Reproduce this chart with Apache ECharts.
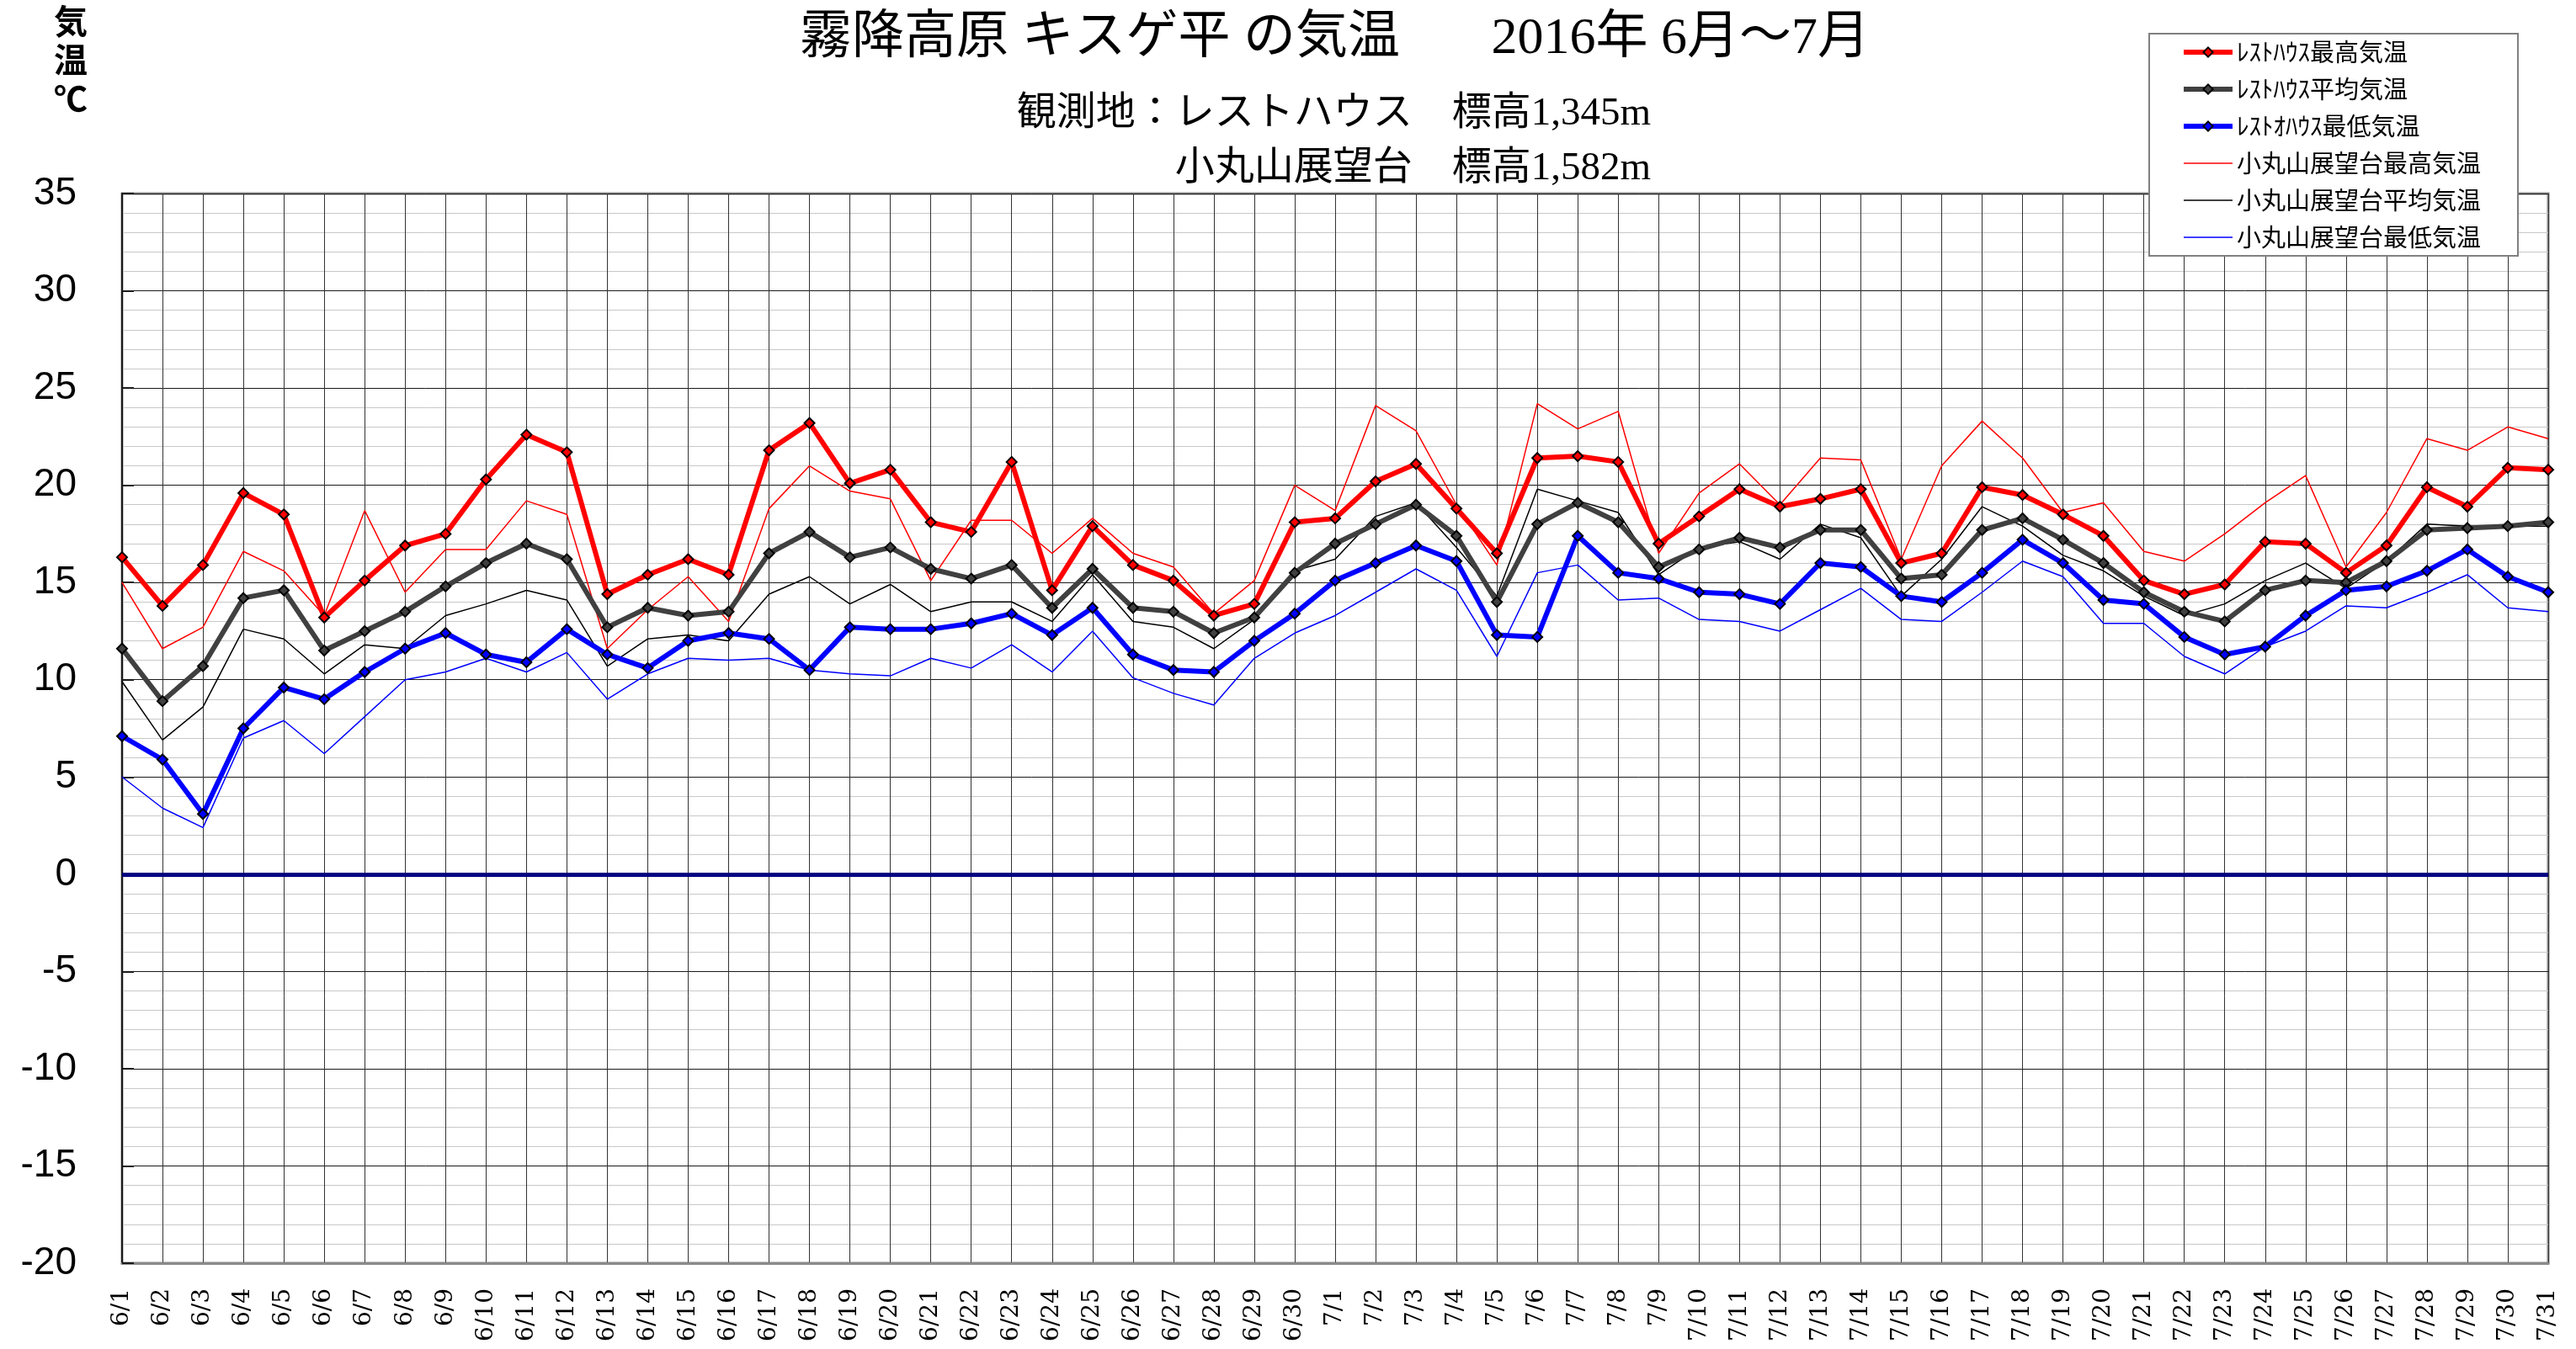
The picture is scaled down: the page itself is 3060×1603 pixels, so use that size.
<!DOCTYPE html>
<html lang="ja">
<head>
<meta charset="utf-8">
<title>霧降高原 キスゲ平 の気温 2016年 6月～7月</title>
<script src="https://cdn.jsdelivr.net/npm/echarts@6/dist/echarts.min.js"></script>
<style>
  html, body { margin: 0; padding: 0; background: #ffffff; }
  #chart { width: 3060px; height: 1603px; }
</style>
</head>
<body>
<div id="chart"></div>
<script>
const dates = [
  "6/1", "6/2", "6/3", "6/4", "6/5", "6/6", "6/7", "6/8", "6/9", "6/10",
  "6/11", "6/12", "6/13", "6/14", "6/15", "6/16", "6/17", "6/18", "6/19", "6/20",
  "6/21", "6/22", "6/23", "6/24", "6/25", "6/26", "6/27", "6/28", "6/29", "6/30",
  "7/1", "7/2", "7/3", "7/4", "7/5", "7/6", "7/7", "7/8", "7/9", "7/10",
  "7/11", "7/12", "7/13", "7/14", "7/15", "7/16", "7/17", "7/18", "7/19", "7/20",
  "7/21", "7/22", "7/23", "7/24", "7/25", "7/26", "7/27", "7/28", "7/29", "7/30", "7/31",
];

// レストハウス (1,345m)
const restMax = [
  16.3, 13.8, 15.9, 19.6, 18.5, 13.2, 15.1, 16.9, 17.5, 20.3, 22.6, 21.7, 14.4,
  15.4, 16.2, 15.4, 21.8, 23.2, 20.1, 20.8, 18.1, 17.6, 21.2, 14.6, 17.9,
  15.9, 15.1, 13.3, 13.9, 18.1, 18.3, 20.2, 21.1, 18.8, 16.5, 21.4, 21.5,
  21.2, 17.0, 18.4, 19.8, 18.9, 19.3, 19.8, 16.0, 16.5, 19.9, 19.5, 18.5,
  17.4, 15.1, 14.4, 14.9, 17.1, 17.0, 15.5, 16.9, 19.9, 18.9, 20.9, 20.8,
];
const restAvg = [
  11.6, 8.9, 10.7, 14.2, 14.6, 11.5, 12.5, 13.5, 14.8, 16.0, 17.0, 16.2, 12.7,
  13.7, 13.3, 13.5, 16.5, 17.6, 16.3, 16.8, 15.7, 15.2, 15.9, 13.7, 15.7,
  13.7, 13.5, 12.4, 13.2, 15.5, 17.0, 18.0, 19.0, 17.4, 14.0, 18.0, 19.1,
  18.1, 15.8, 16.7, 17.3, 16.8, 17.7, 17.7, 15.2, 15.4, 17.7, 18.3, 17.2,
  16.0, 14.5, 13.5, 13.0, 14.6, 15.1, 15.0, 16.1, 17.7, 17.8, 17.9, 18.1,
];
const restMin = [
  7.1, 5.9, 3.1, 7.5, 9.6, 9.0, 10.4, 11.6, 12.4, 11.3, 10.9, 12.6, 11.3,
  10.6, 12.0, 12.4, 12.1, 10.5, 12.7, 12.6, 12.6, 12.9, 13.4, 12.3, 13.7,
  11.3, 10.5, 10.4, 12.0, 13.4, 15.1, 16.0, 16.9, 16.1, 12.3, 12.2, 17.4,
  15.5, 15.2, 14.5, 14.4, 13.9, 16.0, 15.8, 14.3, 14.0, 15.5, 17.2, 16.0,
  14.1, 13.9, 12.2, 11.3, 11.7, 13.3, 14.6, 14.8, 15.6, 16.7, 15.3, 14.5,
];

// 小丸山展望台 (1,582m)
const komaMax = [
  15.0, 11.6, 12.7, 16.6, 15.6, 13.3, 18.7, 14.5, 16.7, 16.7, 19.2, 18.5, 11.6,
  13.6, 15.3, 13.0, 18.8, 21.0, 19.7, 19.3, 15.1, 18.2, 18.2, 16.5, 18.3,
  16.5, 15.8, 13.4, 15.1, 20.0, 18.7, 24.1, 22.8, 19.0, 15.9, 24.2, 22.9,
  23.8, 16.5, 19.6, 21.1, 19.0, 21.4, 21.3, 16.2, 21.0, 23.3, 21.4, 18.6,
  19.1, 16.6, 16.1, 17.5, 19.1, 20.5, 15.8, 18.6, 22.4, 21.8, 23.0, 22.4,
];
const komaAvg = [
  9.9, 6.9, 8.6, 12.6, 12.1, 10.3, 11.8, 11.6, 13.3, 13.9, 14.6, 14.1, 10.7,
  12.1, 12.3, 12.0, 14.4, 15.3, 13.9, 14.9, 13.5, 14.0, 14.0, 13.0, 15.4,
  13.0, 12.7, 11.6, 13.1, 15.6, 16.2, 18.4, 19.1, 16.8, 14.3, 19.8, 19.2,
  18.6, 15.4, 16.8, 17.1, 16.2, 18.0, 17.3, 14.3, 16.2, 18.9, 17.9, 16.4,
  15.6, 14.3, 13.3, 13.9, 15.1, 16.0, 14.7, 16.1, 18.0, 17.9, 17.9, 17.9,
];
const komaMin = [
  5.0, 3.4, 2.4, 7.0, 7.9, 6.2, 8.1, 10.0, 10.4, 11.1, 10.4, 11.4, 9.0,
  10.3, 11.1, 11.0, 11.1, 10.5, 10.3, 10.2, 11.1, 10.6, 11.8, 10.4, 12.5,
  10.1, 9.3, 8.7, 11.1, 12.4, 13.3, 14.5, 15.7, 14.6, 11.2, 15.5, 15.9,
  14.1, 14.2, 13.1, 13.0, 12.5, 13.6, 14.7, 13.1, 13.0, 14.5, 16.1, 15.3,
  12.9, 12.9, 11.2, 10.3, 11.7, 12.5, 13.8, 13.7, 14.5, 15.4, 13.7, 13.5,
];

const seriesNames = [
  "ﾚｽﾄﾊｳｽ最高気温",
  "ﾚｽﾄﾊｳｽ平均気温",
  "ﾚｽﾄｵﾊｳｽ最低気温",
  "小丸山展望台最高気温",
  "小丸山展望台平均気温",
  "小丸山展望台最低気温",
];

const CJK = '"Noto Sans CJK JP"';
const SERIF_CJK = '"Liberation Serif", "Noto Sans CJK JP"';
const THICK = 6;
const THIN = 1.5;

const chart = echarts.init(document.getElementById("chart"));

function thickLine(name, data, color) {
  return {
    name,
    type: "line",
    data,
    z: 5,
    symbol: "diamond",
    symbolSize: 12,
    showAllSymbol: true,
    lineStyle: { color, width: THICK },
    itemStyle: { color, borderColor: "#000000", borderWidth: 2 },
    emphasis: { disabled: true },
  };
}

function thinLine(name, data, color) {
  return {
    name,
    type: "line",
    data,
    z: 3,
    symbol: "none",
    lineStyle: { color, width: THIN },
    itemStyle: { color },
    emphasis: { disabled: true },
  };
}

const zeroLine = thinLine(seriesNames[5], komaMin, "#0000ff");
zeroLine.markLine = {
  silent: true,
  symbol: "none",
  label: { show: false },
  lineStyle: { color: "#000080", width: 5, type: "solid" },
  data: [{ yAxis: 0 }],
};

// legend: thick items keep their diamond, thin items are line only
const legendItems = seriesNames.map((name, i) =>
  i < 3
    ? { name, lineStyle: { width: THICK } }
    : { name, lineStyle: { width: THIN }, itemStyle: { opacity: 0 } }
);

chart.setOption({
  animation: false,
  backgroundColor: "#ffffff",
  title: [
    {
      text: "霧降高原 キスゲ平 の気温\u3000   2016年 6月～7月",
      left: 950,
      top: 16,
      padding: 0,
      textStyle: { fontSize: 62, fontWeight: "normal", color: "#000000", fontFamily: SERIF_CJK },
    },
    {
      text: "観測地：レストハウス\u3000標高1,345m",
      right: 1099,
      top: 112,
      padding: 0,
      textStyle: { fontSize: 47, fontWeight: "normal", color: "#000000", fontFamily: SERIF_CJK },
    },
    {
      text: "小丸山展望台\u3000標高1,582m",
      right: 1099,
      top: 177,
      padding: 0,
      textStyle: { fontSize: 47, fontWeight: "normal", color: "#000000", fontFamily: SERIF_CJK },
    },
  ],
  graphic: [
    {
      type: "text",
      x: 84,
      y: 2,
      style: {
        text: "気\n温\n℃",
        fontSize: 40,
        fontWeight: "bold",
        lineHeight: 46,
        fontFamily: CJK,
        fill: "#000000",
        align: "center",
        verticalAlign: "top",
      },
    },
  ],
  legend: {
    orient: "vertical",
    left: 2553,
    top: 40,
    padding: [7, 44, 7, 38],
    itemWidth: 58,
    itemHeight: 14,
    itemGap: 14,
    backgroundColor: "#ffffff",
    borderColor: "#808080",
    borderWidth: 2,
    z: 10,
    textStyle: { fontSize: 29, lineHeight: 30, color: "#000000", fontFamily: CJK },
    data: legendItems,
  },
  grid: {
    left: 145,
    right: 33,
    top: 230,
    bottom: 102,
    show: true,
    borderColor: "#8a8a8a",
    borderWidth: 3,
    outerBoundsMode: "none",
  },
  xAxis: {
    type: "category",
    data: dates,
    boundaryGap: false,
    axisLine: { onZero: false, lineStyle: { color: "#8a8a8a", width: 3 } },
    axisTick: { show: false },
    axisLabel: {
      interval: 0,
      rotate: 90,
      margin: 30,
      fontSize: 28,
      color: "#000000",
      fontFamily: '"DejaVu Serif"',
    },
    splitLine: { show: true, interval: 0, lineStyle: { color: "#333333", width: 1 } },
  },
  yAxis: {
    type: "value",
    min: -20,
    max: 35,
    interval: 5,
    axisLine: { show: true, lineStyle: { color: "#1a1a1a", width: 2 } },
    axisTick: { show: true, inside: true, length: 14, lineStyle: { color: "#1a1a1a", width: 2 } },
    axisLabel: { fontSize: 46, margin: 54, color: "#000000", fontFamily: '"Liberation Sans"' },
    splitLine: { show: true, lineStyle: { color: "#1a1a1a", width: 1 } },
    minorTick: { show: false, splitNumber: 5 },
    minorSplitLine: { show: true, lineStyle: { color: "#c8c8c8", width: 1 } },
  },
  series: [
    thickLine(seriesNames[0], restMax, "#ff0000"),
    thickLine(seriesNames[1], restAvg, "#404040"),
    thickLine(seriesNames[2], restMin, "#0000ff"),
    thinLine(seriesNames[3], komaMax, "#ff0000"),
    thinLine(seriesNames[4], komaAvg, "#000000"),
    zeroLine,
  ],
});

window.addEventListener("resize", () => chart.resize());
</script>
</body>
</html>
